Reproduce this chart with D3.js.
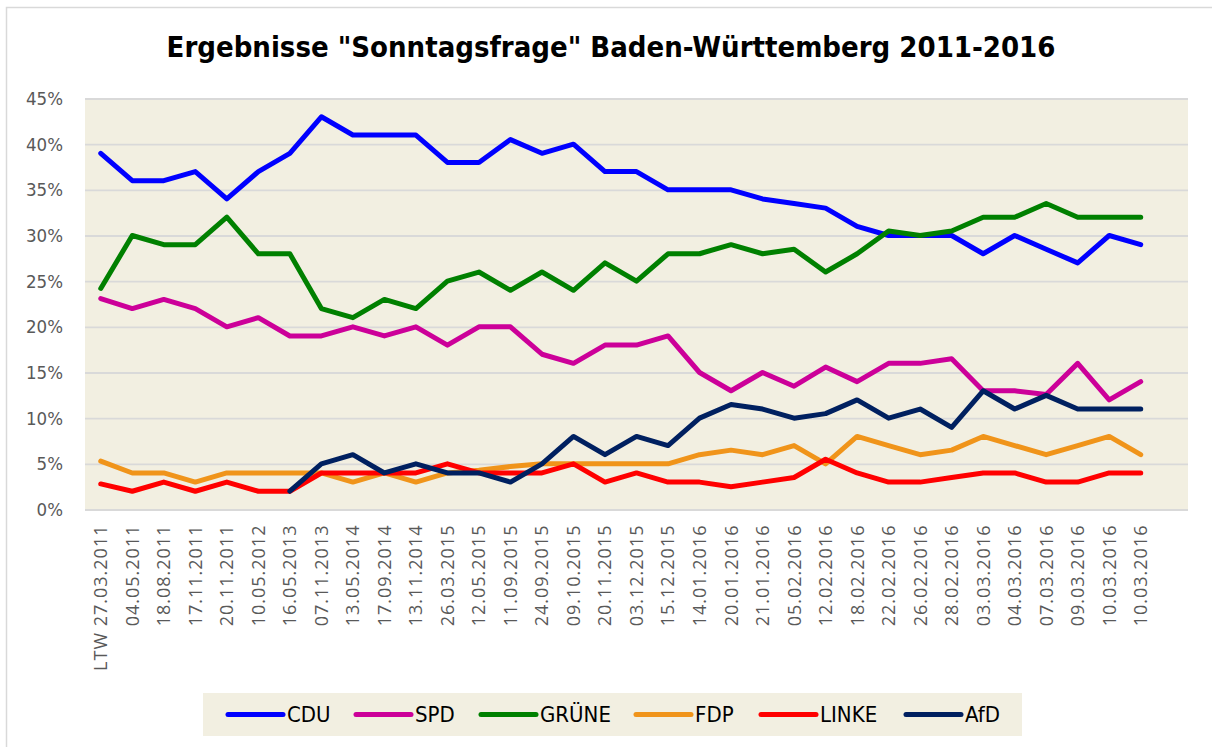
<!DOCTYPE html>
<html>
<head>
<meta charset="utf-8" />
<style>

body {
    margin: 0;
    background-color: #FFF;
}

#chart text {
    font-family: "DejaVu Sans Condensed", "DejaVu Sans", sans-serif;
}

#chart .x-axis text {
    font-family: "Open Sans", sans-serif;
    letter-spacing: 1px;
}

</style>
<title>Sonntagsfrage Baden-Württemberg</title>
</head>

<body>
<div id="chart"></div>

<script src="https://cdn.jsdelivr.net/npm/d3@7"></script>
<script>

// poll dates (the last slot of the axis stays empty, as in the original sheet)
var dates = ["LTW 27.03.2011", "04.05.2011", "18.08.2011", "17.11.2011", "20.11.2011",
    "10.05.2012", "16.05.2013", "07.11.2013", "13.05.2014", "17.09.2014", "13.11.2014",
    "26.03.2015", "12.05.2015", "11.09.2015", "24.09.2015", "09.10.2015", "20.11.2015",
    "03.12.2015", "15.12.2015", "14.01.2016", "20.01.2016", "21.01.2016", "05.02.2016",
    "12.02.2016", "18.02.2016", "22.02.2016", "26.02.2016", "28.02.2016", "03.03.2016",
    "04.03.2016", "07.03.2016", "09.03.2016", "10.03.2016", "10.03.2016"];

var cdu = [39, 36, 36, 37, 34, 37, 39, 43, 41, 41, 41, 38, 38, 40.5, 39, 40, 37, 37, 35, 35,
    35, 34, 33.5, 33, 31, 30, 30, 30, 28, 30, 28.5, 27, 30, 29];
var spd = [23.1, 22, 23, 22, 20, 21, 19, 19, 20, 19, 20, 18, 20, 20, 17, 16, 18, 18, 19, 15,
    13, 15, 13.5, 15.6, 14, 16, 16, 16.5, 13, 13, 12.6, 16, 12, 14];
var gruene = [24.2, 30, 29, 29, 32, 28, 28, 22, 21, 23, 22, 25, 26, 24, 26, 24, 27, 25, 28, 28,
    29, 28, 28.5, 26, 28, 30.5, 30, 30.5, 32, 32, 33.5, 32, 32, 32];
var fdp = [5.3, 4, 4, 3, 4, 4, 4, 4, 3, 4, 3, 4, 4.3, 4.7, 5, 5, 5, 5, 5, 6,
    6.5, 6, 7, 5, 8, 7, 6, 6.5, 8, 7, 6, 7, 8, 6];
var linke = [2.8, 2, 3, 2, 3, 2, 2, 4, 4, 4, 4, 5, 4, 4, 4, 5, 3, 4, 3, 3,
    2.5, 3, 3.5, 5.5, 4, 3, 3, 3.5, 4, 4, 3, 3, 4, 4];
var afd = [null, null, null, null, null, null, 2, 5, 6, 4, 5, 4, 4, 3, 5, 8, 6, 8, 7, 10,
    11.5, 11, 10, 10.5, 12, 10, 11, 9, 13, 11, 12.5, 11, 11, 11];

var parties = ["CDU", "SPD", "GRÜNE", "FDP", "LINKE", "AfD"];
var partyValues = [cdu, spd, gruene, fdp, linke, afd];
var partyColors = ["#0000FF", "#CC0099", "#008000", "#F0941A", "#FF0000", "#002060"];

var yTicks = [0, 5, 10, 15, 20, 25, 30, 35, 40, 45];

var width = 1212, height = 747;
var margin = {top: 98.5, left: 85, plotWidth: 1103, plotHeight: 411};

var svg = d3.select("#chart").append("svg")
    .attr("width", width)
    .attr("height", height);

// outer frame (right and bottom edges run off the picture)
svg.append("rect")
    .attr("x", 6.5).attr("y", 7.5)
    .attr("width", 1230).attr("height", 770)
    .attr("fill", "#FFF")
    .attr("stroke", "#D9D9D9")
    .attr("stroke-width", 1.5);

svg.append("text")
    .attr("x", 611).attr("y", 57)
    .attr("text-anchor", "middle")
    .style("font-size", "29px")
    .style("font-weight", "bold")
    .attr("fill", "#000")
    .text('Ergebnisse "Sonntagsfrage" Baden-Württemberg 2011-2016');

var g = svg.append("g")
    .attr("transform", "translate(" + margin.left + "," + margin.top + ")");

g.append("rect")
    .attr("width", margin.plotWidth)
    .attr("height", margin.plotHeight)
    .attr("fill", "#F2EFE1");

var x = d3.scaleBand()
    .domain(d3.range(dates.length + 1))
    .range([0, margin.plotWidth]);

var y = d3.scaleLinear()
    .domain([0, 45])
    .range([margin.plotHeight, 0]);

var yAxis = g.append("g")
    .attr("class", "y-axis")
    .call(d3.axisLeft(y)
        .tickValues(yTicks)
        .tickSize(-margin.plotWidth)
        .tickPadding(22)
        .tickFormat(function(d) { return d + "%"; }));

yAxis.select(".domain").remove();
yAxis.selectAll("line")
    .attr("stroke", "#D9D9D9")
    .attr("stroke-width", 1.8);
yAxis.selectAll("text")
    .attr("fill", "#595959")
    .style("font-size", "18.5px");

var xAxis = g.append("g")
    .attr("class", "x-axis")
    .attr("transform", "translate(0," + margin.plotHeight + ")")
    .call(d3.axisBottom(x)
        .tickValues(d3.range(dates.length))
        .tickSize(0)
        .tickFormat(function(i) { return dates[i]; }));

xAxis.select(".domain").remove();
xAxis.selectAll("text")
    .attr("transform", "rotate(-90)")
    .attr("text-anchor", "end")
    .attr("x", -15)
    .attr("y", 0)
    .attr("dy", "0.36em")
    .attr("fill", "#595959")
    .style("font-size", "18px");

var line = d3.line()
    .defined(function(d) { return d != null; })
    .x(function(d, i) { return x(i) + x.bandwidth() / 2; })
    .y(function(d) { return y(d); });

g.selectAll(".party")
    .data(partyValues)
    .enter()
    .append("path")
    .attr("class", "party")
    .attr("d", line)
    .attr("fill", "none")
    .attr("stroke", function(d, i) { return partyColors[i]; })
    .attr("stroke-width", 5)
    .attr("stroke-linejoin", "round")
    .attr("stroke-linecap", "round");

// legend
var legend = svg.append("g")
    .attr("transform", "translate(203,693)");

legend.append("rect")
    .attr("width", 819)
    .attr("height", 43)
    .attr("fill", "#F2EFE1");

var legendX = [25, 153, 278, 433, 558, 703];

var item = legend.selectAll(".item")
    .data(parties)
    .enter()
    .append("g")
    .attr("class", "item")
    .attr("transform", function(d, i) { return "translate(" + legendX[i] + ",21.5)"; });

item.append("line")
    .attr("x1", 0).attr("x2", 55)
    .attr("stroke", function(d, i) { return partyColors[i]; })
    .attr("stroke-width", 5)
    .attr("stroke-linecap", "round");

item.append("text")
    .attr("x", 59)
    .attr("dy", "0.36em")
    .style("font-size", "22px")
    .attr("fill", "#000")
    .text(function(d) { return d; });

</script>
</body>
</html>
